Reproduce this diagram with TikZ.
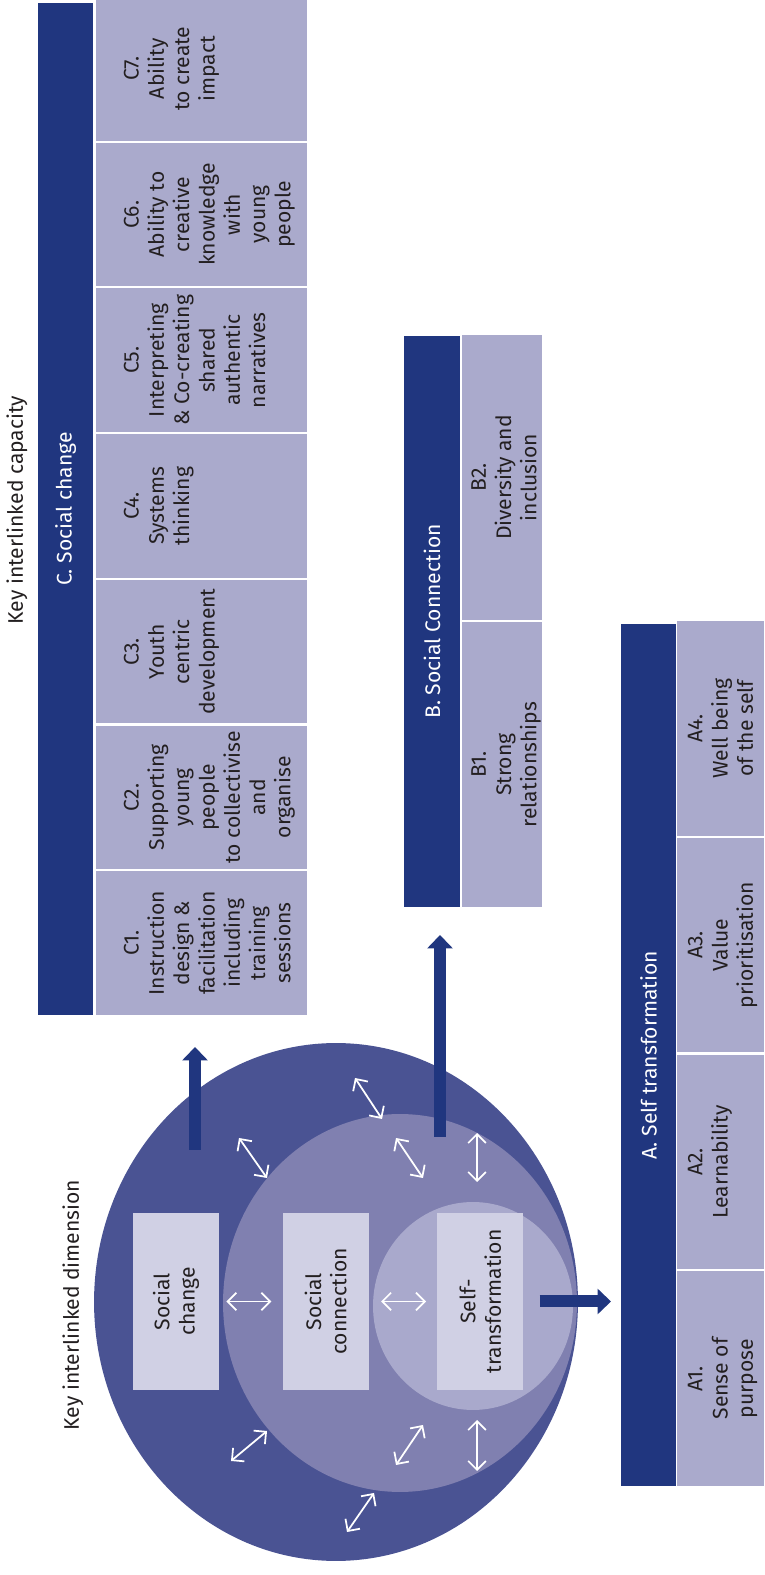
\documentclass[tikz,border=0pt]{standalone}
\usepackage{fontspec}
\setmainfont{Fira Sans}
\usepackage{xcolor}
\usepackage{tikz}
\usetikzlibrary{arrows.meta,positioning}
\definecolor{navy}{RGB}{32,54,127}
\definecolor{lilac}{RGB}{170,170,204}
\definecolor{ringouter}{RGB}{74,83,147}
\definecolor{ringmid}{RGB}{128,128,176}
\definecolor{ringinner}{RGB}{169,169,204}
\definecolor{boxgrey}{RGB}{208,208,228}
\definecolor{ink}{RGB}{35,31,32}

\begin{document}
\begin{tikzpicture}[rotate=90, transform shape, x=0.02cm, y=-0.02cm,
        font=\fontsize{12}{14.4}\selectfont, text=ink,
        head/.style={fill=navy, draw=white, line width=0.6pt, text=white, inner sep=0pt, anchor=north west},
        cell/.style={fill=lilac, draw=white, line width=0.6pt, inner sep=0pt, anchor=north west},
        acell/.style={cell, minimum width=4.315cm, minimum height=1.76cm},
        bcell/.style={cell, minimum width=5.72cm, minimum height=1.62cm},
        ccell/.style={cell, minimum width=2.894cm, minimum height=4.24cm},
        celltext/.style={align=center, inner sep=0pt},
        dimbox/.style={fill=boxgrey, minimum width=3.54cm, minimum height=1.72cm, align=center, inner sep=0pt},
        link/.style={white, line width=1pt, >={Straight Barb[length=5pt,width=10pt]}, <->},
        push/.style={navy, line width=0.24cm, -{Triangle[width=0.5cm,length=0.27cm]}}]
    \useasboundingbox (0,0) rectangle (1575,764);

    \fill[ringouter] (273,336) ellipse [x radius=5.18cm, y radius=4.84cm];
    \fill[ringmid] (272,400) ellipse [x radius=3.78cm, y radius=3.54cm];
    \fill[ringinner] (269,473) ellipse [x radius=2.08cm, y radius=2cm];

    \node (kdim) at (270,73) {Key interlinked dimension};
    \node (sc) [dimbox] at (273.5,176) {Social\\change};
    \node (scn) [dimbox, below=1.26cm of sc] {Social\\connection};
    \node (self) [dimbox, below=1.36cm of scn] {Self-\\transformation};

    \node (kcap) at (1065,17) {Key interlinked capacity};

    \node (ahead) [head, minimum width=17.26cm, minimum height=1.12cm] at (88,620) {A. Self transformation};
    \node (a1) [acell] at (88,676) {};
    \node (a2) [acell, right=0pt of a1] {};
    \node (a3) [acell, right=0pt of a2] {};
    \node (a4) [acell, right=0pt of a3] {};
    \node (a1t) [celltext, below=0.23cm of a1.north] {A1.\\Sense of\\purpose};
    \node (a2t) [celltext, below=0.23cm of a2.north] {A2.\\Learnability};
    \node (a3t) [celltext, below=0.23cm of a3.north] {A3.\\Value\\prioritisation};
    \node (a4t) [celltext, below=0.23cm of a4.north] {A4.\\Well being\\of the self};

    \node (bhead) [head, minimum width=11.44cm, minimum height=1.14cm] at (667,403) {B. Social Connection};
    \node (b1) [bcell] at (667,461) {};
    \node (b2) [bcell, right=0pt of b1] {};
    \node (b1t) [celltext, below=0.2cm of b1.north] {B1.\\Strong\\relationships};
    \node (b2t) [celltext, below=0.2cm of b2.north] {B2.\\Diversity and\\inclusion};

    \node (chead) [head, minimum width=20.26cm, minimum height=1.12cm] at (559,37) {C. Social change};
    \node (c1) [ccell] at (559,95) {};
    \node (c2) [ccell, right=0pt of c1] {};
    \node (c3) [ccell, right=0pt of c2] {};
    \node (c4) [ccell, right=0pt of c3] {};
    \node (c5) [ccell, right=0pt of c4] {};
    \node (c6) [ccell, right=0pt of c5] {};
    \node (c7) [ccell, right=0pt of c6] {};
    \node (c1t) [celltext, below=0.57cm of c1.north] {C1.\\Instruction\\design \&\\facilitation\\including\\training\\sessions};
    \node (c2t) [celltext, below=0.57cm of c2.north] {C2.\\Supporting\\young\\people\\to collectivise\\and\\organise};
    \node (c3t) [celltext, below=0.57cm of c3.north] {C3.\\Youth\\centric\\development};
    \node (c4t) [celltext, below=0.57cm of c4.north] {C4.\\Systems\\thinking};
    \node (c5t) [celltext, below=0.57cm of c5.north] {C5.\\Interpreting\\\& Co-creating\\shared\\authentic\\narratives};
    \node (c6t) [celltext, below=0.57cm of c6.north] {C6.\\Ability to\\creative\\knowledge\\with\\young\\people};
    \node (c7t) [celltext, below=0.57cm of c7.north] {C7.\\Ability\\to create\\impact};

    \draw[link, shorten <=0.14cm, shorten >=0.22cm] (sc) -- (scn);
    \draw[link, shorten <=0.24cm, shorten >=0.22cm] (scn) -- (self);

    \coordinate (o1a) at (437,239); \coordinate (o1b) at (397,267);
    \coordinate (o2a) at (497,355); \coordinate (o2b) at (456,382);
    \coordinate (o3a) at (114,231); \coordinate (o3b) at (144,267);
    \coordinate (o4a) at (43,347);  \coordinate (o4b) at (82,374);
    \coordinate (m1a) at (437,396); \coordinate (m1b) at (397,423);
    \coordinate (m2a) at (442,477); \coordinate (m2b) at (393,477);
    \coordinate (m3a) at (110,396); \coordinate (m3b) at (150,423);
    \coordinate (m4a) at (155,477); \coordinate (m4b) at (104,477);
    \draw[link] (o1a) -- (o1b);
    \draw[link] (o2a) -- (o2b);
    \draw[link] (o3a) -- (o3b);
    \draw[link] (o4a) -- (o4b);
    \draw[link] (m1a) -- (m1b);
    \draw[link] (m2a) -- (m2b);
    \draw[link] (m3a) -- (m3b);
    \draw[link] (m4a) -- (m4b);

    \coordinate (up1) at (425,195);
    \coordinate (up2) at (438,440);
    \draw[push, shorten >=0.62cm] (up1) -- (up1 -| c1.west);
    \draw[push, shorten >=0.54cm] (up2) -- (up2 -| b1.west);
    \draw[push, shorten <=0.32cm, shorten >=0.18cm] (self.south) -- (self.south |- ahead.north);
\end{tikzpicture}
\end{document}
